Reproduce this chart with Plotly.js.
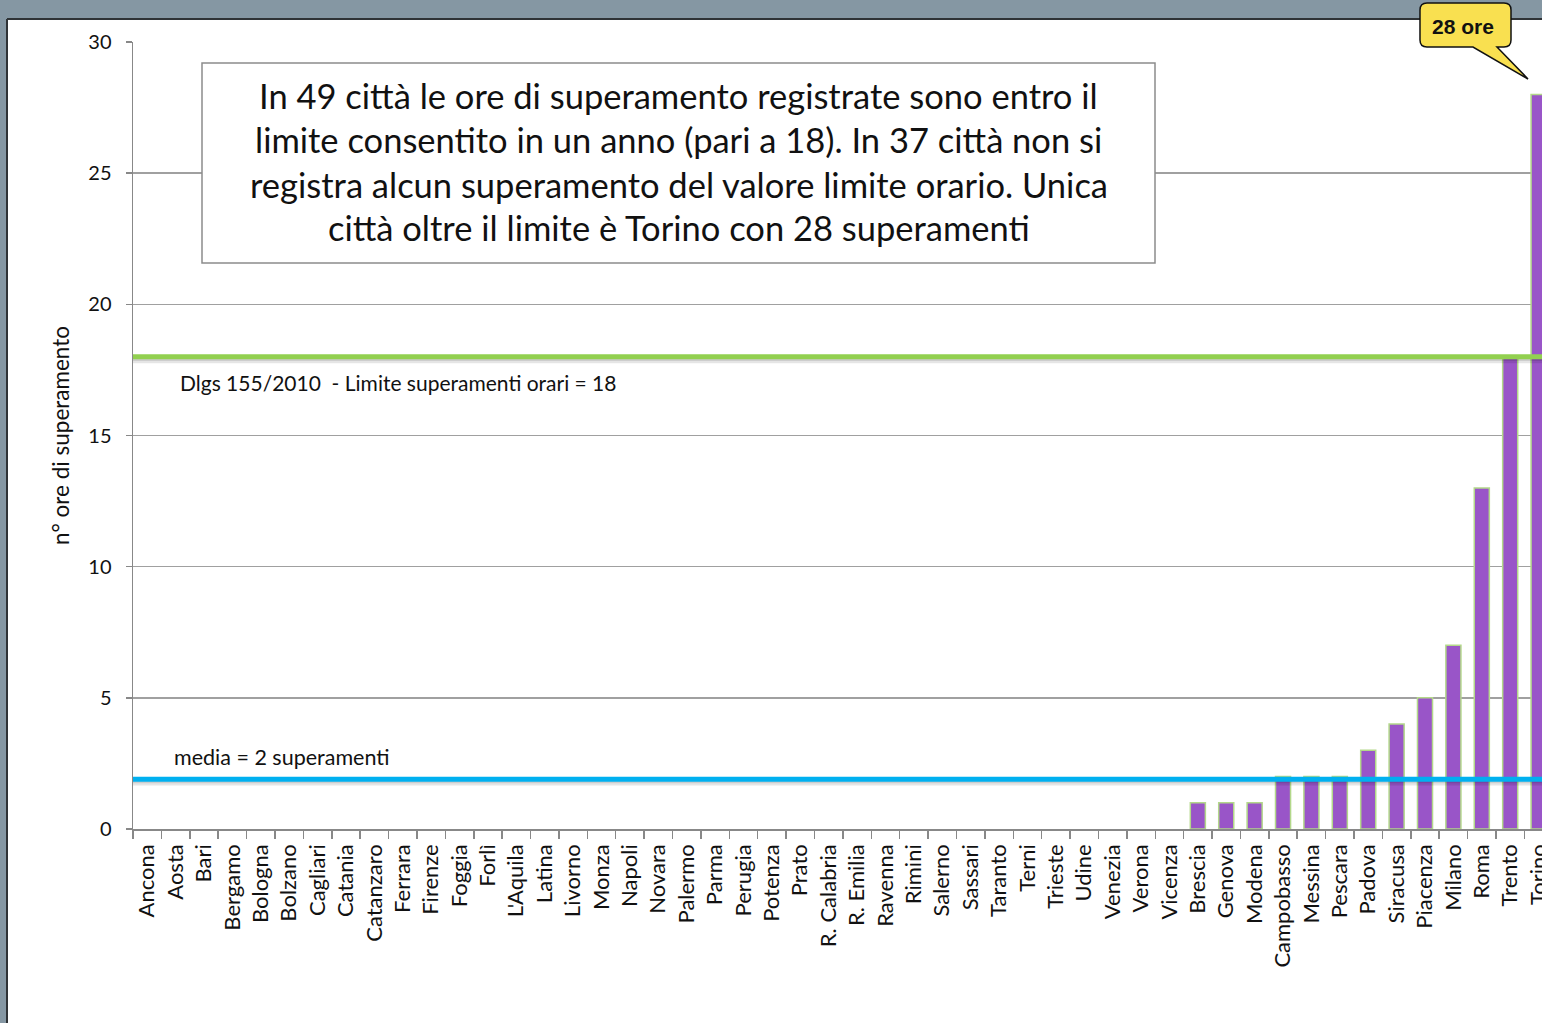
<!DOCTYPE html>
<html>
<head>
<meta charset="utf-8">
<script src="https://cdn.plot.ly/plotly-3.0.1.min.js"></script>
<style>html,body{margin:0;padding:0;background:#fff;}#chart{width:1542px;height:1023px;}</style>
</head>
<body>
<div id="chart"></div>
<script>
// ---- data ----
const cities = ["Ancona","Aosta","Bari","Bergamo","Bologna","Bolzano","Cagliari","Catania","Catanzaro","Ferrara","Firenze","Foggia","Forlì","L'Aquila","Latina","Livorno","Monza","Napoli","Novara","Palermo","Parma","Perugia","Potenza","Prato","R. Calabria","R. Emilia","Ravenna","Rimini","Salerno","Sassari","Taranto","Terni","Trieste","Udine","Venezia","Verona","Vicenza","Brescia","Genova","Modena","Campobasso","Messina","Pescara","Padova","Siracusa","Piacenza","Milano","Roma","Trento","Torino"];
const hours = [0,0,0,0,0,0,0,0,0,0,0,0,0,0,0,0,0,0,0,0,0,0,0,0,0,0,0,0,0,0,0,0,0,0,0,0,0,1,1,1,2,2,2,3,4,5,7,13,18,28];
const limitValue = 18;
const mediaValue = 1.9;
const yTicks = [0,5,10,15,20,25,30];
const limitLabel = "Dlgs 155/2010  - Limite superamenti orari = 18";
const mediaLabel = "media = 2 superamenti";
const boxLines = [
  "In 49 città le ore di superamento registrate sono entro il",
  "limite consentito in un anno (pari a 18). In 37 città non si",
  "registra alcun superamento del valore limite orario. Unica",
  "città oltre il limite è Torino con 28 superamenti"
];
const calloutText = "28 ore";
const yTitle = "n° ore di superamento";

// ---- layout helpers (pixel -> paper) ----
const W = 1542, H = 1023;
const M = {l:133, r:0, t:42, b:194};
const PW = W - M.l - M.r, PH = H - M.t - M.b;
const px = x => (x - M.l) / PW;
const py = y => (H - M.b - y) / PH;

const FONT = "Lato, 'Open Sans', sans-serif";

const trace = {
  type: 'bar',
  x: cities,
  y: hours,
  width: 0.53,
  marker: {color: '#9955c8', line: {color: '#b3d88a', width: hours.map(v => v > 0 ? 1.5 : 0)}},
  hoverinfo: 'x+y'
};

const shapes = [];
// slide frame
shapes.push({type:'rect', xref:'paper', yref:'paper', x0:px(-2), x1:px(W+2), y0:py(19), y1:py(-2), fillcolor:'#8597a3', line:{width:0}, layer:'below'});
shapes.push({type:'rect', xref:'paper', yref:'paper', x0:px(-2), x1:px(7), y0:py(H+2), y1:py(-2), fillcolor:'#8597a3', line:{width:0}, layer:'below'});
shapes.push({type:'line', xref:'paper', yref:'paper', x0:px(7), x1:px(W+2), y0:py(19), y1:py(19), line:{color:'#2f3336', width:2}, layer:'below'});
shapes.push({type:'line', xref:'paper', yref:'paper', x0:px(7), x1:px(7), y0:py(19), y1:py(H+2), line:{color:'#2f3336', width:2}, layer:'below'});

// shadows
[[limitValue],[mediaValue]].forEach(([v]) => {
  shapes.push({type:'line', xref:'paper', yref:'y', x0:0, x1:1, y0:v-0.13, y1:v-0.13, line:{color:'rgba(0,0,0,0.10)', width:6}, layer:'above'});
  shapes.push({type:'line', xref:'paper', yref:'y', x0:0, x1:1, y0:v-0.08, y1:v-0.08, line:{color:'rgba(0,0,0,0.10)', width:4}, layer:'above'});
});
// reference lines
shapes.push({type:'line', xref:'paper', yref:'y', x0:0, x1:1, y0:limitValue, y1:limitValue, line:{color:'#92d050', width:5}, layer:'above'});
shapes.push({type:'line', xref:'paper', yref:'y', x0:0, x1:1, y0:mediaValue, y1:mediaValue, line:{color:'#00b0f0', width:5}, layer:'above'});

// text box
shapes.push({type:'rect', xref:'paper', yref:'paper', x0:px(202), x1:px(1155), y0:py(263), y1:py(63), fillcolor:'#ffffff', line:{color:'#8c8c8c', width:1.5}, layer:'above'});

// callout
function calloutPath(){
  const L=1420, R=1511, T=3, B=47, r=7;
  const P = (x,y) => px(x).toFixed(5)+','+py(y).toFixed(5);
  return 'M '+P(L+r,T)+' L '+P(R-r,T)+' Q '+P(R,T)+' '+P(R,T+r)+
    ' L '+P(R,B-r)+' Q '+P(R,B)+' '+P(R-r,B)+
    ' L '+P(1497,B)+' L '+P(1528,79)+' L '+P(1473,B)+
    ' L '+P(L+r,B)+' Q '+P(L,B)+' '+P(L,B-r)+
    ' L '+P(L,T+r)+' Q '+P(L,T)+' '+P(L+r,T)+' Z';
}
shapes.push({type:'path', xref:'paper', yref:'paper', path:calloutPath(), fillcolor:'#f9e050', line:{color:'#111111', width:1.5}, layer:'above'});

const annotations = [];
const lineY = [95, 139, 184, 228];
boxLines.forEach((t,i) => {
  annotations.push({xref:'paper', yref:'paper', x:px(678.5), y:py(lineY[i]), xanchor:'center', yanchor:'middle', text:t, showarrow:false, font:{family:FONT, size:34.5, color:'#111'}});
});
annotations.push({xref:'paper', yref:'y', x:px(178), y:limitValue, yshift:-26, xanchor:'left', yanchor:'middle', text:limitLabel, showarrow:false, font:{family:FONT, size:21, color:'#111'}});
annotations.push({xref:'paper', yref:'y', x:px(172), y:mediaValue, yshift:22, xanchor:'left', yanchor:'middle', text:mediaLabel, showarrow:false, font:{family:FONT, size:21.5, color:'#111'}});
annotations.push({xref:'paper', yref:'paper', x:px(1463), y:py(26), xanchor:'center', yanchor:'middle', text:'<b>'+calloutText+'</b>', showarrow:false, font:{family:"'Liberation Sans', Arial, sans-serif", size:21, color:'#111'}});

const layout = {
  width: W, height: H,
  margin: M,
  paper_bgcolor: '#ffffff',
  plot_bgcolor: '#ffffff',
  showlegend: false,
  bargap: 0,
  xaxis: {
    type: 'category',
    range: [-0.5, cities.length - 0.5 - 0.38],
    tickangle: -90,
    ticks: 'outside', ticklen: 8, tickcolor: '#888', tickwidth: 1.5,
    tickson: 'boundaries',
    ticklabelstandoff: 5,
    showline: true, linecolor: '#888', linewidth: 1.5,
    showgrid: false,
    tickfont: {family: FONT, size: 22, color: '#111'},
    automargin: false,
    fixedrange: true
  },
  yaxis: {
    range: [0, 30],
    tickvals: yTicks,
    ticks: 'outside', ticklen: 6, tickcolor: '#888', tickwidth: 1.5,
    showline: true, linecolor: '#888', linewidth: 1.5,
    showgrid: true, gridcolor: '#a0a0a0', gridwidth: 1.5,
    zeroline: false,
    tickfont: {family: FONT, size: 20, color: '#111'},
    ticklabelstandoff: 10,
    title: {text: yTitle, font: {family: FONT, size: 22.5, color: '#111'}, standoff: 12},
    automargin: false,
    fixedrange: true
  },
  shapes: shapes,
  annotations: annotations
};

Plotly.newPlot('chart', [trace], layout, {displayModeBar: false, staticPlot: true});
</script>
</body>
</html>
